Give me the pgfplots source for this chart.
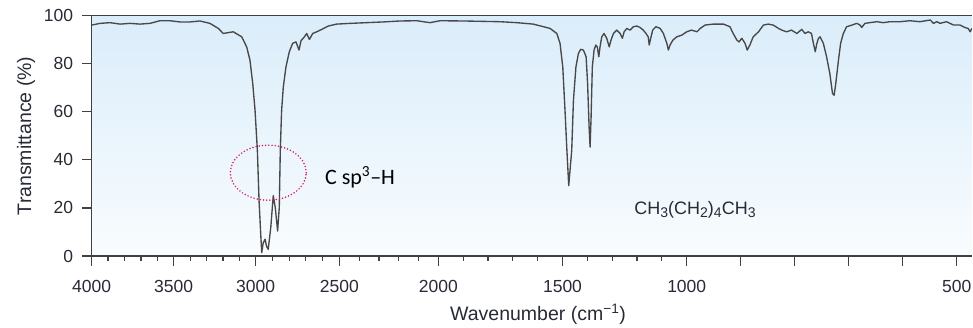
\documentclass[border=0pt]{standalone}
\usepackage{fontspec}
\setmainfont{Liberation Sans}
\newfontfamily\carlito{Carlito}
\usepackage{pgfplots}
\usepackage{pgfplotstable}
\pgfplotsset{compat=1.18}
\definecolor{tickc}{RGB}{40,42,54}
\definecolor{axc}{RGB}{64,64,64}
\definecolor{spec}{RGB}{72,72,72}
\definecolor{bgtop}{RGB}{218,237,250}
\definecolor{bgbot}{RGB}{249,252,254}
\definecolor{ring}{RGB}{214,24,110}
\newcommand\sub[1]{\raisebox{-0.32ex}{\fontsize{14}{14}\selectfont #1}}

% wavenumber (cm^-1)  transmittance (%)
\pgfplotstableread{
nu T
4000 96.1
3949 96.8
3888 97.1
3827 96.5
3766 96.8
3705 96.5
3645 96.8
3584 97.9
3523 97.9
3462 97.4
3401 97.4
3340 97.8
3279 96.8
3228 94.7
3198 92.6
3137 93.3
3085 91.2
3055 87.0
3035 81.5
3018 71.7
3004 60.6
2990 43.9
2980 23.0
2970 9.1
2964 1.4
2955 5.5
2944 7.0
2935 4.0
2925 2.8
2910 11.8
2895 25.1
2883 20.2
2869 10.4
2859 20.2
2853 43.9
2845 60.6
2835 70.3
2819 78.7
2799 85.0
2779 88.5
2759 89.1
2741 85.7
2729 89.6
2711 91.0
2695 92.6
2679 90.1
2659 92.6
2635 93.3
2605 94.3
2566 95.7
2516 96.5
2446 96.8
2362 97.1
2278 97.4
2193 97.8
2109 97.9
2042 97.1
1993 97.9
1900 97.8
1800 97.6
1752 97.5
1684 97.1
1618 96.5
1550 94.7
1523 92.6
1510 88.5
1499 78.7
1490 60.6
1483 45.3
1475 29.3
1463 43.9
1456 64.8
1446 78.7
1436 84.3
1427 86.0
1416 85.7
1405 82.9
1399 71.7
1393 53.6
1389 45.3
1385 57.8
1380 78.7
1373 85.7
1366 87.8
1360 87.0
1354 82.9
1349 87.0
1342 91.2
1333 92.6
1322 90.6
1312 87.0
1305 89.8
1295 92.6
1282 94.0
1268 92.6
1259 90.6
1252 93.3
1241 94.7
1228 94.0
1215 95.4
1201 95.7
1188 95.1
1175 94.0
1164 92.6
1155 91.2
1151 87.8
1145 90.6
1137 94.0
1124 95.4
1107 94.7
1094 92.6
1080 88.5
1074 85.7
1067 87.8
1056 89.8
1040 91.2
1020 91.9
1000 93.3
991 94.0
981 93.3
975 94.7
966 96.1
951 96.5
932 96.5
920 95.4
914 92.6
907 89.8
903 89.1
898 90.6
892 88.5
888 85.7
883 87.8
877 91.2
867 93.3
858 96.1
849 96.5
840 96.1
830 94.7
824 94.0
815 93.3
806 94.0
796 92.6
787 94.3
781 92.6
775 93.3
769 92.6
766 89.1
762 85.0
759 88.5
756 90.6
753 91.2
747 88.5
741 82.9
735 75.9
730 67.6
727 66.9
724 71.8
719 81.5
715 88.5
710 92.6
704 95.4
694 96.1
685 96.8
679 96.1
676 95.1
670 96.8
661 97.1
648 97.5
636 97.1
624 97.5
605 97.5
587 97.9
568 97.5
549 98.2
543 96.8
537 97.5
531 96.8
519 97.5
506 96.1
494 96.1
485 95.1
479 94.7
475 93.3
472 94.7
}\spectrum

\begin{document}
\begin{tikzpicture}
\useasboundingbox (-91.7pt,-72pt) rectangle (881.3pt,256pt);
\begin{axis}[
  scale only axis, width=880.3pt, height=240.3pt,
  x coord trafo/.code={\pgfmathparse{(#1>=3000)?(91.7+(4000-#1)*0.164):((#1>=2500)?(255.7+(3000-#1)*0.1672):((#1>=2000)?(339.3+(2500-#1)*0.198):((#1>=1000)?(438.3+(2000-#1)*0.2484):(686.7+(1000-#1)*0.54))))}},
  xmin=4000, xmax=471.7,
  ymin=0, ymax=100,
  axis x line*=box, axis y line*=left,
  xtick pos=bottom, ytick pos=left,
  tick align=outside,
  major tick length=10pt, minor tick length=5pt,
  every tick/.style={axc, line width=1.2pt},
  axis line style={axc, line width=1.3pt},
  xtick={4000,3500,3000,2500,2000,1500,1000,900,800,700,600,500},
  xticklabels={4000,3500,3000,2500,2000,1500,1000,,,,,500},
  minor xtick={3900,3800,3700,3600,3400,3300,3200,3100,2900,2800,2700,2600,2400,2300,2200,2100,1900,1800,1700,1600,1400,1300,1200,1100},
  ytick={0,20,40,60,80,100},
  /pgf/number format/assume math mode=true,
  tick label style={font=\fontsize{17.5}{20}\selectfont, color=tickc},
  yticklabel style={xshift=-5pt},
  xticklabel style={yshift=-11pt},
  xlabel={Wavenumber (cm\textsuperscript{−1})},
  ylabel={Transmittance (\%)},
  label style={font=\fontsize{19.5}{23}\selectfont, color=tickc},
  xlabel style={at={(axis description cs:0.507,-0.243)}, anchor=center},
  ylabel style={at={(axis description cs:-0.0746,0.5)}, anchor=center},
  axis background/.style={top color=bgtop, bottom color=bgbot},
]
\addplot[spec, line width=1.35pt, line join=round] table[x=nu, y=T] {\spectrum};
\draw[ring, line width=1.7pt, dash pattern=on 0pt off 3.2pt, line cap=round]
  (axis description cs:0.2006,0.3466) ellipse [x radius=38pt, y radius=27.5pt];
\node[font=\carlito\fontsize{22}{26}\selectfont, anchor=base, text=black]
  at (axis description cs:0.3048,0.2984) {C sp\textsuperscript{3}–H};
\node[font=\fontsize{18}{21}\selectfont, text=tickc, anchor=base]
  at (axis description cs:0.6853,0.1735) {CH\sub{3}(CH\sub{2})\sub{4}CH\sub{3}};
\end{axis}
\end{tikzpicture}
\end{document}
